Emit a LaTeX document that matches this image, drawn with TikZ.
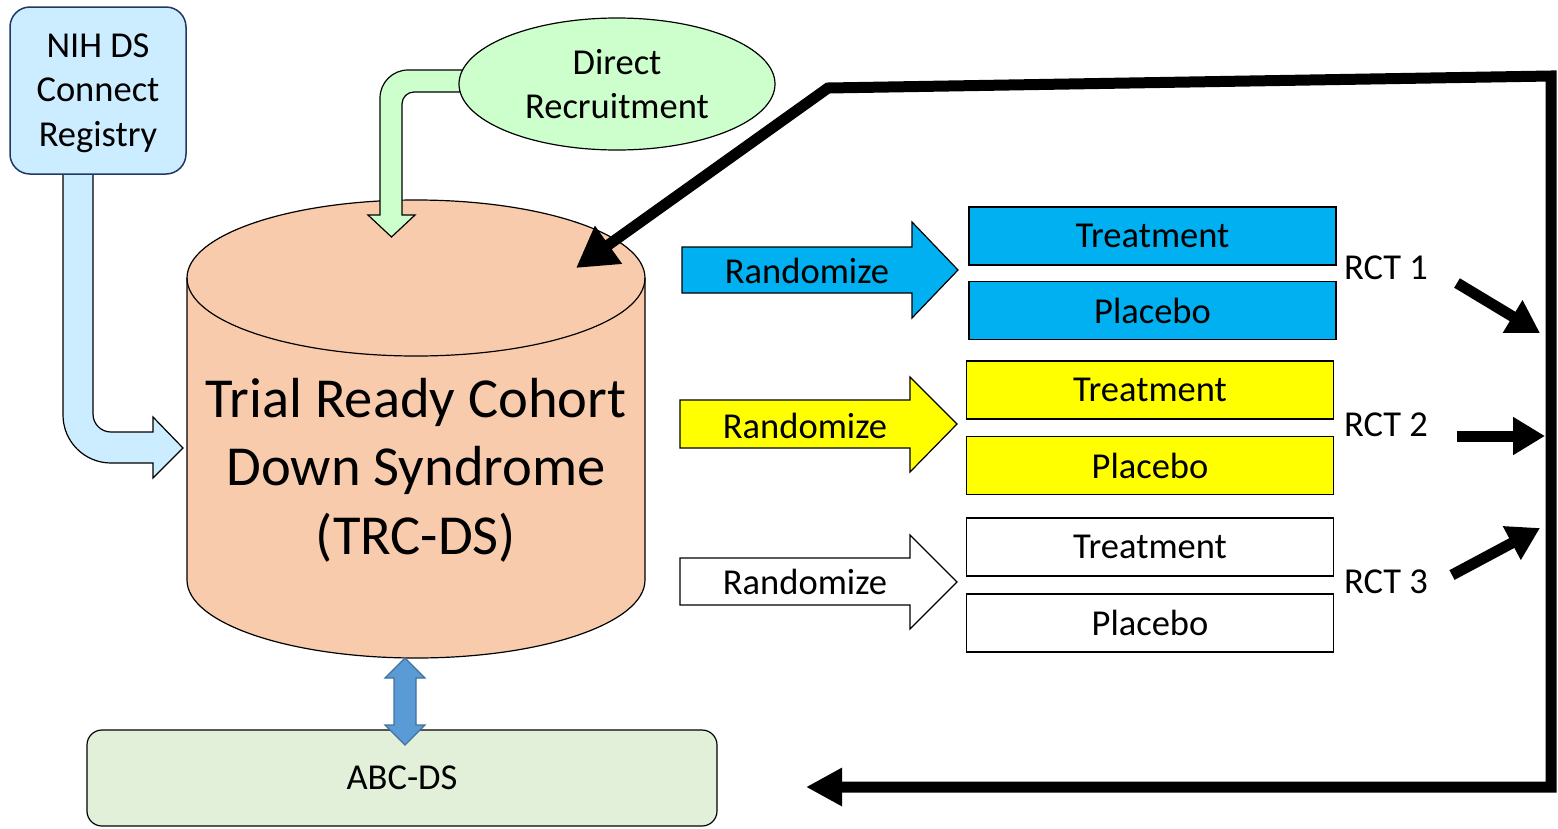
\documentclass[tikz,border=0pt]{standalone}
\usepackage{fontspec}
\setmainfont{Carlito}
\usetikzlibrary{arrows.meta,shapes.geometric}
\definecolor{nihfill}{HTML}{CCECFF}
\definecolor{nihline}{HTML}{203864}
\definecolor{cylfill}{HTML}{F8CBAD}
\definecolor{recfill}{HTML}{CCFFCC}
\definecolor{rctblue}{HTML}{00B0F0}
\definecolor{rctyellow}{HTML}{FFFF00}
\definecolor{abcfill}{HTML}{E2F0D9}
\definecolor{dblfill}{HTML}{5B9BD5}
\definecolor{dblline}{HTML}{41719C}
\newcommand\txtmid{\fontsize{36.5}{44.5}\selectfont}
\newcommand\txtbig{\fontsize{56.5}{68.5}\selectfont}
\begin{document}
\begin{tikzpicture}[x=1pt,y=-1pt,
  outline/.style={draw=black,line width=1.2pt},
  armbox/.style={outline,minimum width=367pt,minimum height=58pt,inner sep=0pt,font=\txtmid},
  lbl/.style={inner sep=0pt,font=\txtmid,align=center},
  blockarrow/.style={outline,line join=miter},
  fatline/.style={draw=black,line width=11pt,line join=miter},
  rcthead/.style={-{Triangle[length=32pt,width=36pt]}}
]
\useasboundingbox (0,0) rectangle (1558,828);

% bent arrow from the registry into the cohort
\filldraw[blockarrow,fill=nihfill] (63,170) -- (63,415)
  arc[start angle=180,end angle=270,radius=48pt] -- (153,463) -- (153,478)
  -- (183,448) -- (153,417) -- (153,432) -- (111,432)
  arc[start angle=270,end angle=180,radius=18pt] -- (93,170) -- cycle;

% cohort cylinder
\filldraw[outline,fill=cylfill] (187,278) -- (187,580)
  arc[start angle=180,end angle=360,x radius=229pt,y radius=78pt] -- (645,278)
  arc[start angle=0,end angle=180,x radius=229pt,y radius=78pt] -- cycle;
\draw[outline] (187,278) arc[start angle=180,end angle=360,x radius=229pt,y radius=78pt];
\node[lbl,font=\txtbig] (trc) at (416,470) {Trial Ready Cohort\\Down Syndrome\\(TRC-DS)};

% bent arrow from direct recruitment
\filldraw[blockarrow,fill=recfill] (470,70) -- (408,70)
  arc[start angle=90,end angle=180,radius=28pt] -- (380,215) -- (368,215)
  -- (391.5,237) -- (415,215) -- (402,215) -- (402,104)
  arc[start angle=180,end angle=90,radius=12pt] -- (470,92) -- cycle;

\node[outline,ellipse,fill=recfill,minimum width=316pt,minimum height=132pt,
  inner sep=0pt,lbl] (direct) at (617,84) {Direct\\Recruitment};

\node[draw=nihline,line width=1.5pt,fill=nihfill,rounded corners=20pt,
  minimum width=176pt,minimum height=167pt,inner sep=0pt] (nih) at (98,90.5) {};
\node[lbl] (nihtext) at (98,93) {NIH DS\\Connect\\Registry};

% randomisation arrows
\filldraw[blockarrow,fill=rctblue] (682,247) -- (912,247) -- (912,222) -- (958,270)
  -- (912,318) -- (912,293) -- (682,293) -- cycle;
\node[lbl] (rand1) at (807,271) {Randomize};
\filldraw[blockarrow,fill=rctyellow] (680,400) -- (910,400) -- (910,377) -- (957,424)
  -- (910,472) -- (910,448) -- (680,448) -- cycle;
\node[lbl] (rand2) at (805,426) {Randomize};
\filldraw[blockarrow,fill=white] (680,558) -- (910,558) -- (910,535) -- (957,582)
  -- (910,629) -- (910,605) -- (680,605) -- cycle;
\node[lbl] (rand3) at (805,582) {Randomize};

% trial arms
\node[armbox,fill=rctblue] (t1) at (1152.5,236) {Treatment};
\node[armbox,fill=rctblue] (p1) at (1152.5,310.5) {Placebo};
\node[armbox,fill=rctyellow] (t2) at (1150,390) {Treatment};
\node[armbox,fill=rctyellow] (p2) at (1150,465.5) {Placebo};
\node[armbox,fill=white] (t3) at (1150,547) {Treatment};
\node[armbox,fill=white] (p3) at (1150,623) {Placebo};

\node[lbl] (rct1) at (1386,268) {RCT 1};
\node[lbl] (rct2) at (1386,425) {RCT 2};
\node[lbl] (rct3) at (1386,582) {RCT 3};

% feedback loop
\coordinate (cylIn) at (576,268);
\coordinate (kink) at (828,88);
\coordinate (loopTR) at (1551,76);
\coordinate (loopBR) at (1551,787);
\coordinate (abcBack) at (806,787);
\draw[fatline,{Triangle[length=40pt,width=44pt]}-{Triangle[length=36pt,width=36pt]}]
  (cylIn) -- (kink) -- (loopTR) -- (loopBR) -- (abcBack);

\coordinate (r1s) at (1457,283);
\coordinate (r1e) at (1540,333);
\coordinate (r2s) at (1457,436);
\coordinate (r2e) at (1545,436);
\coordinate (r3s) at (1452,575);
\coordinate (r3e) at (1540,528);
\draw[fatline,rcthead] (r1s) -- (r1e);
\draw[fatline,rcthead] (r2s) -- (r2e);
\draw[fatline,rcthead] (r3s) -- (r3e);

% ABC-DS
\node[outline,fill=abcfill,rounded corners=15pt,minimum width=630pt,
  minimum height=96pt,inner sep=0pt,lbl] (abc) at (402,778) {ABC-DS};

\filldraw[draw=dblline,line width=1.2pt,fill=dblfill,line join=miter]
  (405,658) -- (425,678) -- (416,678) -- (416,725) -- (425,725) -- (405,745)
  -- (385,725) -- (394,725) -- (394,678) -- (385,678) -- cycle;
\end{tikzpicture}
\end{document}
